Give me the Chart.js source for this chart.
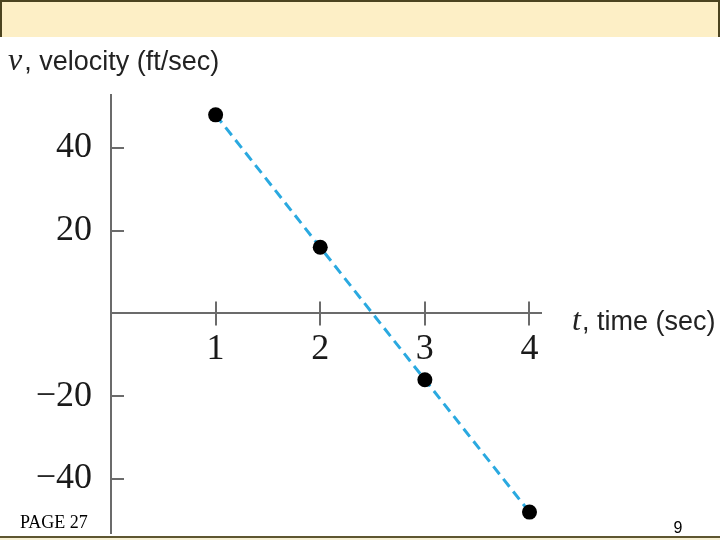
<!DOCTYPE html>
<html>
<head>
<meta charset="utf-8">
<script src="https://cdn.jsdelivr.net/npm/chart.js@4.4.1/dist/chart.umd.min.js"></script>
<style>
  html, body { margin: 0; padding: 0; width: 720px; height: 540px; overflow: hidden; background: #fff; }
  #band { position: absolute; left: 0; top: 0; width: 720px; height: 37px; box-sizing: border-box;
          background: #fdefc6; border-top: 2px solid #4c4420; border-left: 2px solid #4c4420; border-right: 2px solid #4c4420; }
  #foot { position: absolute; left: 0; top: 536px; width: 720px; height: 4px; box-sizing: border-box;
          background: #f7f0d4; border-top: 2px solid #5e5630; }
  #wrap { position: absolute; left: 0; top: 0; width: 720px; height: 620px; }
</style>
</head>
<body>
<div id="band"></div>
<div id="wrap"><canvas id="velChart" width="720" height="620"></canvas></div>
<div id="foot"></div>
<script>
// t (sec) and v (ft/sec)
const times = [1, 2, 3, 4];
const velocity = [48, 16, -16, -48];

// tick values shown on the axes
const tTicks = [1, 2, 3, 4];
const vTicks = [40, 20, -20, -40];

const axisColor = '#6b6b6b';
const tickFont = { family: '"Liberation Serif", "DejaVu Serif", serif', size: 36 };

// small tick marks: cross the t-axis, point inward from the v-axis
const tickMarks = {
  id: 'tickMarks',
  beforeDatasetsDraw(chart) {
    const { ctx, scales: { x, y } } = chart;
    const x0 = x.getPixelForValue(0);
    const y0 = y.getPixelForValue(0);
    ctx.save();
    ctx.strokeStyle = axisColor;
    ctx.lineWidth = 2;
    ctx.beginPath();
    tTicks.forEach(v => {
      const px = Math.round(x.getPixelForValue(v));
      ctx.moveTo(px, y0 - 12);
      ctx.lineTo(px, y0 + 12);
    });
    vTicks.forEach(v => {
      const py = Math.round(y.getPixelForValue(v));
      ctx.moveTo(x0, py);
      ctx.lineTo(x0 + 13, py);
    });
    ctx.stroke();
    ctx.restore();
  },
  afterDraw(chart) {
    const { ctx, chartArea } = chart;
    const y0 = chart.scales.y.getPixelForValue(0);
    ctx.save();
    ctx.fillStyle = '#222';
    ctx.textBaseline = 'alphabetic';
    // y-axis title
    ctx.font = 'italic 32px "Liberation Serif", serif';
    ctx.fillText('v', 8, 70);
    let w = ctx.measureText('v').width;
    ctx.font = '27px "Liberation Sans", Arial, sans-serif';
    ctx.fillText(', velocity (ft/sec)', 8 + w + 2, 70);
    // x-axis title
    const tx = chartArea.right + 31;
    ctx.font = 'italic 32px "Liberation Serif", serif';
    ctx.fillText('t', tx, y0 + 17);
    w = ctx.measureText('t').width;
    ctx.font = '27px "Liberation Sans", Arial, sans-serif';
    ctx.fillText(', time (sec)', tx + w + 1, y0 + 17);
    // slide footer
    ctx.fillStyle = '#000';
    ctx.font = '18px "Liberation Serif", serif';
    ctx.fillText('PAGE 27', 20, 528);
    ctx.font = '16px "Liberation Sans", sans-serif';
    ctx.textAlign = 'center';
    ctx.fillText('9', 678, 533);
    ctx.restore();
  }
};

const ctx = document.getElementById('velChart').getContext('2d');
const chart = new Chart(ctx, {
  type: 'line',
  data: {
    datasets: [{
      data: times.map((t, i) => ({ x: t, y: velocity[i] })),
      borderColor: '#2aa9e0',
      borderWidth: 3,
      borderDash: [10, 6],
      fill: false,
      tension: 0,
      pointRadius: 7.5,
      pointBackgroundColor: '#000',
      pointBorderWidth: 0,
      clip: false
    }]
  },
  options: {
    responsive: false,
    animation: false,
    devicePixelRatio: 1,
    layout: { padding: { left: 0, right: 179, top: 95, bottom: 87 } },
    plugins: { legend: { display: false }, tooltip: { enabled: false } },
    scales: {
      x: {
        type: 'linear',
        min: 0,
        max: 4.11,
        position: { y: 0 },
        afterBuildTicks: s => { s.ticks = tTicks.map(v => ({ value: v })); },
        grid: { display: true, drawOnChartArea: false, drawTicks: false },
        border: { color: axisColor, width: 2 },
        ticks: { font: tickFont, color: '#1a1a1a', padding: 14, maxRotation: 0 }
      },
      y: {
        type: 'linear',
        min: -53.05,
        max: 52.8,
        position: 'left',
        afterBuildTicks: s => { s.ticks = vTicks.map(v => ({ value: v })); },
        afterFit: s => { s.width = 111; },
        grid: { display: true, drawOnChartArea: false, drawTicks: false },
        border: { color: axisColor, width: 2 },
        ticks: {
          font: tickFont,
          color: '#1a1a1a',
          padding: 19,
          callback: v => (v < 0 ? '\u2212' + Math.abs(v) : String(v))
        }
      }
    }
  },
  plugins: [tickMarks]
});
</script>
</body>
</html>
